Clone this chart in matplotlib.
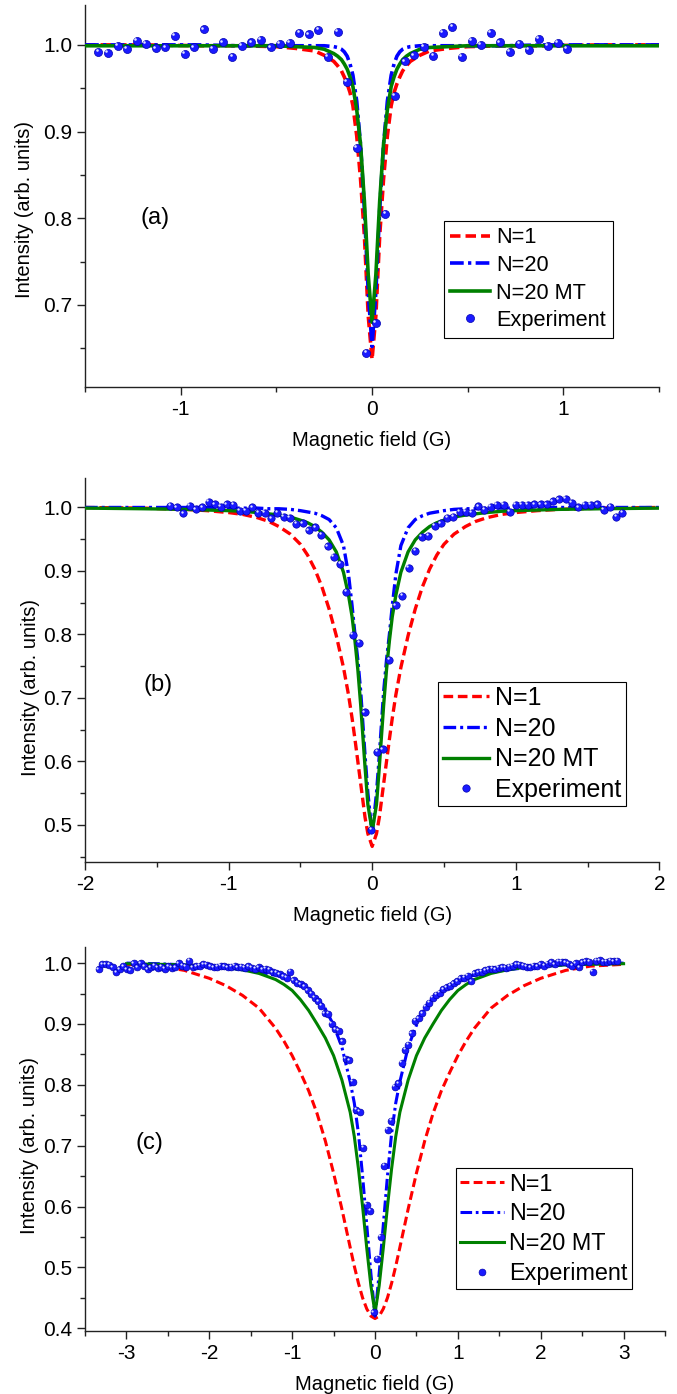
import matplotlib.pyplot as plt
import matplotlib.transforms as mtransforms
from matplotlib.ticker import MultipleLocator, FormatStrFormatter

plt.rcParams['font.family'] = ['Liberation Sans', 'DejaVu Sans']
plt.rcParams['axes.unicode_minus'] = False

LABELS = ["N=1", "N=20", "N=20 MT", "Experiment"]

# ---------------- panel (a) ----------------
fit_x_a = [-1.5, -1.2, -0.9, -0.7, -0.5, -0.4, -0.3, -0.25, -0.2, -0.18, -0.16, -0.145, -0.13, -0.115,
           -0.1, -0.08, -0.06, -0.04, -0.02, 0.0, 0.02, 0.04, 0.06, 0.08, 0.1, 0.115, 0.13, 0.145,
           0.16, 0.18, 0.2, 0.25, 0.3, 0.4, 0.5, 0.7, 0.9, 1.2, 1.5]
n1_a = [1.000, 1.000, 0.999, 0.999, 0.998, 0.996, 0.993, 0.988, 0.981, 0.976, 0.970, 0.963, 0.955,
        0.945, 0.930, 0.895, 0.845, 0.780, 0.688, 0.637, 0.688, 0.780, 0.845, 0.895, 0.930, 0.945,
        0.955, 0.963, 0.970, 0.976, 0.981, 0.988, 0.993, 0.996, 0.998, 0.999, 0.999, 1.000, 1.000]
n20_a = [1.000, 1.000, 1.000, 0.999, 0.999, 0.999, 0.999, 0.999, 0.998, 0.997, 0.995, 0.992, 0.987,
         0.978, 0.965, 0.935, 0.885, 0.810, 0.715, 0.652, 0.715, 0.810, 0.885, 0.935, 0.965, 0.978,
         0.987, 0.992, 0.995, 0.997, 0.998, 0.999, 0.999, 0.999, 0.999, 0.999, 1.000, 1.000, 1.000]
n20mt_a = [0.999, 0.999, 0.999, 0.999, 0.999, 0.998, 0.997, 0.995, 0.990, 0.987, 0.983, 0.978, 0.972,
           0.963, 0.952, 0.925, 0.885, 0.820, 0.735, 0.680, 0.735, 0.820, 0.885, 0.925, 0.952, 0.963,
           0.972, 0.978, 0.983, 0.987, 0.990, 0.995, 0.997, 0.998, 0.999, 0.999, 0.999, 0.999, 0.999]
exp_x_a = [-1.43, -1.38, -1.33, -1.28, -1.23, -1.18, -1.13, -1.08, -1.03, -0.98, -0.93, -0.88, -0.83,
           -0.78, -0.73, -0.68, -0.63, -0.58, -0.53, -0.48, -0.43, -0.38, -0.33, -0.28, -0.23, -0.18,
           -0.13, -0.08, -0.03, 0.02, 0.07, 0.12, 0.17, 0.22, 0.27, 0.32, 0.37, 0.42, 0.47, 0.52,
           0.57, 0.62, 0.67, 0.72, 0.77, 0.82, 0.87, 0.92, 0.97, 1.02]
exp_y_a = [0.992, 0.991, 0.999, 0.995, 1.005, 1.001, 0.996, 0.997, 1.010, 0.990, 0.997, 1.018, 0.995,
           1.003, 0.986, 0.999, 1.003, 1.006, 0.997, 1.001, 1.002, 1.014, 1.012, 1.017, 0.986, 1.015,
           0.957, 0.881, 0.645, 0.679, 0.805, 0.941, 0.981, 0.988, 0.998, 0.987, 1.014, 1.021, 0.986,
           1.005, 1.000, 1.014, 1.003, 0.992, 1.001, 0.994, 1.007, 0.999, 1.002, 0.995]

# ---------------- panel (b) ----------------
fit_x_b = [-2.0, -1.6, -1.3, -1.15, -1.0, -0.9, -0.8, -0.72, -0.65, -0.57, -0.5, -0.45, -0.4, -0.35,
           -0.3, -0.25, -0.2, -0.165, -0.14, -0.12, -0.1, -0.08, -0.05, -0.03, 0.0, 0.03, 0.05, 0.08,
           0.1, 0.12, 0.14, 0.165, 0.2, 0.25, 0.3, 0.35, 0.4, 0.45, 0.5, 0.57, 0.65, 0.72, 0.8, 0.9,
           1.0, 1.15, 1.3, 1.6, 2.0]
n1_b = [1.000, 0.999, 0.997, 0.995, 0.992, 0.989, 0.984, 0.978, 0.970, 0.958, 0.942, 0.925, 0.903,
        0.875, 0.840, 0.798, 0.748, 0.705, 0.668, 0.635, 0.600, 0.565, 0.512, 0.486, 0.466, 0.486,
        0.512, 0.565, 0.600, 0.635, 0.668, 0.705, 0.748, 0.798, 0.840, 0.875, 0.903, 0.925, 0.942,
        0.958, 0.970, 0.978, 0.984, 0.989, 0.992, 0.995, 0.997, 0.999, 1.000]
n20_b = [1.000, 1.000, 1.000, 1.000, 0.999, 0.999, 0.999, 0.998, 0.998, 0.997, 0.995, 0.993, 0.991,
         0.987, 0.981, 0.968, 0.940, 0.895, 0.845, 0.800, 0.760, 0.710, 0.610, 0.550, 0.485, 0.550,
         0.610, 0.710, 0.760, 0.800, 0.845, 0.895, 0.940, 0.968, 0.981, 0.987, 0.991, 0.993, 0.995,
         0.997, 0.998, 0.998, 0.999, 0.999, 0.999, 1.000, 1.000, 1.000, 1.000]
n20mt_b = [0.999, 0.998, 0.997, 0.996, 0.995, 0.994, 0.992, 0.990, 0.988, 0.985, 0.980, 0.976, 0.970,
           0.961, 0.949, 0.930, 0.898, 0.862, 0.828, 0.790, 0.745, 0.689, 0.592, 0.532, 0.490, 0.532,
           0.592, 0.689, 0.745, 0.790, 0.828, 0.862, 0.898, 0.930, 0.949, 0.961, 0.970, 0.976, 0.980,
           0.985, 0.988, 0.990, 0.992, 0.994, 0.995, 0.996, 0.997, 0.998, 0.999]
exp_x_b = [-1.405, -1.36, -1.315, -1.272, -1.227, -1.182, -1.14, -1.098, -1.053, -1.011, -0.966,
           -0.924, -0.879, -0.834, -0.792, -0.747, -0.702, -0.66, -0.615, -0.573, -0.528, -0.483,
           -0.441, -0.396, -0.354, -0.309, -0.267, -0.222, -0.18, -0.135, -0.09, -0.051, -0.005,
           0.035, 0.076, 0.12, 0.165, 0.21, 0.255, 0.30, 0.345, 0.39, 0.435, 0.48, 0.522, 0.564,
           0.609, 0.651, 0.696, 0.738, 0.78, 0.825, 0.87, 0.915, 0.957, 0.999, 1.041, 1.086, 1.128,
           1.173, 1.215, 1.26, 1.302, 1.347, 1.392, 1.437, 1.479, 1.524, 1.569, 1.614, 1.659, 1.701,
           1.743]
exp_y_b = [1.003, 1.000, 0.991, 1.003, 0.997, 1.000, 1.009, 1.005, 1.001, 1.005, 1.004,
           0.995, 0.995, 1.000, 0.992, 0.992, 0.983, 0.992, 0.985, 0.984, 0.974, 0.975,
           0.964, 0.969, 0.957, 0.939, 0.922, 0.911, 0.867, 0.799, 0.787, 0.677, 0.492,
           0.615, 0.619, 0.760, 0.846, 0.861, 0.905, 0.932, 0.954, 0.955, 0.971, 0.975, 0.984, 0.985,
           0.993, 0.993, 0.992, 1.002, 0.996, 1.001, 1.004, 1.004, 0.993, 1.004, 1.004, 1.004, 1.005,
           1.005, 1.005, 1.010, 1.013, 1.014, 1.007, 1.000, 1.004, 1.004, 1.005, 0.996, 1.001, 0.985,
           0.992]

# ---------------- panel (c) ----------------
fit_x_c = [-3.0, -2.6, -2.3, -2.0, -1.8, -1.6, -1.4, -1.2, -1.1, -1.0, -0.9, -0.8, -0.7, -0.6, -0.5,
           -0.4, -0.3, -0.25, -0.2, -0.15, -0.1, -0.05, 0.0, 0.05, 0.1, 0.15, 0.2, 0.25, 0.3, 0.4,
           0.5, 0.6, 0.7, 0.8, 0.9, 1.0, 1.1, 1.2, 1.4, 1.6, 1.8, 2.0, 2.3, 2.6, 3.0]
n1_c = [0.998, 0.995, 0.988, 0.975, 0.963, 0.947, 0.926, 0.893, 0.872, 0.848, 0.820, 0.790, 0.753,
        0.708, 0.655, 0.596, 0.533, 0.502, 0.474, 0.450, 0.432, 0.420, 0.416, 0.420, 0.432, 0.450,
        0.474, 0.502, 0.533, 0.596, 0.655, 0.708, 0.753, 0.790, 0.820, 0.848, 0.872, 0.893, 0.926,
        0.947, 0.963, 0.975, 0.988, 0.995, 0.998]
n20_c = [1.000, 0.999, 0.997, 0.994, 0.992, 0.989, 0.985, 0.980, 0.977, 0.972, 0.965, 0.955, 0.942,
         0.925, 0.898, 0.862, 0.805, 0.770, 0.720, 0.650, 0.570, 0.490, 0.420, 0.490, 0.570, 0.650,
         0.720, 0.770, 0.805, 0.862, 0.898, 0.925, 0.942, 0.955, 0.965, 0.972, 0.977, 0.980, 0.985,
         0.989, 0.992, 0.994, 0.997, 0.999, 1.000]
n20mt_c = [0.999, 0.998, 0.997, 0.995, 0.993, 0.989, 0.983, 0.973, 0.965, 0.955, 0.940, 0.922, 0.900,
           0.877, 0.848, 0.808, 0.755, 0.715, 0.662, 0.600, 0.532, 0.470, 0.425, 0.470, 0.532, 0.600,
           0.662, 0.715, 0.755, 0.808, 0.848, 0.877, 0.900, 0.922, 0.940, 0.955, 0.965, 0.973, 0.983,
           0.989, 0.993, 0.995, 0.997, 0.998, 0.999]
exp_x_c = [-3.334, -3.292, -3.250, -3.208, -3.166, -3.124, -3.082, -3.040, -2.998, -2.956,
           -2.914, -2.872, -2.830, -2.788, -2.746, -2.704, -2.662, -2.620, -2.578, -2.536,
           -2.494, -2.452, -2.410, -2.368, -2.326, -2.284, -2.242, -2.200, -2.158, -2.116,
           -2.074, -2.032, -1.990, -1.948, -1.906, -1.864, -1.822, -1.780, -1.738, -1.696,
           -1.654, -1.612, -1.570, -1.528, -1.486, -1.444, -1.402, -1.360, -1.318, -1.276,
           -1.234, -1.192, -1.150, -1.108, -1.066, -1.024, -0.982, -0.940, -0.898, -0.856,
           -0.814, -0.772, -0.730, -0.688, -0.646, -0.604, -0.562, -0.520, -0.478, -0.436,
           -0.394, -0.352, -0.310, -0.268, -0.226, -0.184, -0.142, -0.100, -0.058, -0.016,
           0.026, 0.068, 0.110, 0.152, 0.194, 0.236, 0.278, 0.320, 0.362, 0.404,
           0.446, 0.488, 0.530, 0.572, 0.614, 0.656, 0.698, 0.740, 0.782, 0.824,
           0.866, 0.908, 0.950, 0.992, 1.034, 1.076, 1.118, 1.160, 1.202, 1.244,
           1.286, 1.328, 1.370, 1.412, 1.454, 1.496, 1.538, 1.580, 1.622, 1.664,
           1.706, 1.748, 1.790, 1.832, 1.874, 1.916, 1.958, 2.000, 2.042, 2.084,
           2.126, 2.168, 2.210, 2.252, 2.294, 2.336, 2.378, 2.420, 2.462, 2.504,
           2.546, 2.588, 2.630, 2.672, 2.714, 2.756, 2.798, 2.840, 2.882, 2.924]
exp_y_c = [0.990, 0.998, 0.998, 0.997, 0.993, 0.985, 0.990, 0.995, 0.990, 0.988,
           1.000, 0.993, 1.000, 0.995, 0.990, 0.993, 0.996, 0.992, 0.994, 0.991,
           0.995, 0.992, 0.993, 1.000, 0.996, 0.994, 1.004, 0.993, 0.995, 0.996,
           0.998, 0.997, 0.995, 0.993, 0.994, 0.996, 0.995, 0.993, 0.994, 0.996,
           0.993, 0.994, 0.992, 0.995, 0.992, 0.991, 0.993, 0.990, 0.991, 0.989,
           0.985, 0.984, 0.982, 0.978, 0.976, 0.986, 0.972, 0.968, 0.965, 0.962,
           0.955, 0.950, 0.943, 0.937, 0.930, 0.918, 0.917, 0.900, 0.891, 0.889,
           0.872, 0.843, 0.840, 0.805, 0.759, 0.756, 0.697, 0.603, 0.593, 0.426,
           0.514, 0.550, 0.667, 0.726, 0.741, 0.797, 0.803, 0.836, 0.858, 0.866,
           0.885, 0.905, 0.909, 0.918, 0.928, 0.935, 0.943, 0.948, 0.951, 0.957,
           0.960, 0.963, 0.967, 0.970, 0.975, 0.976, 0.979, 0.970, 0.983, 0.985,
           0.986, 0.988, 0.990, 0.991, 0.990, 0.992, 0.993, 0.992, 0.994, 0.996,
           0.998, 0.997, 0.996, 0.994, 0.993, 0.996, 0.995, 0.998, 0.996, 0.999,
           1.001, 0.998, 1.002, 1.002, 1.001, 0.999, 0.996, 1.000, 0.993, 1.001,
           1.003, 1.002, 0.986, 1.004, 1.005, 1.002, 1.002, 1.004, 1.003, 1.004]

# layout of the three panels (figure fractions / axes fractions)
panels = [
    dict(tag='(a)', rect=[0.1256, 0.7226, 0.8479, 0.2738], xlim=(-1.5, 1.5), ylim=(0.6057, 1.046),
         lw=2.6, ms=5.8, leg_xy=(0.6554, 0.8415), leg_fs=15.7, borderpad=0.3, labelspacing=0.30,
         handlelength=1.83, handletextpad=0.28, ylab=(-0.0897, 0.4655), tag_xy=(0.0958, 0.442)),
    dict(tag='(b)', rect=[0.1256, 0.3819, 0.8483, 0.2750], xlim=(-2, 2), ylim=(0.442, 1.046),
         lw=2.4, ms=5.3, leg_xy=(0.6474, 0.5110), leg_fs=18, borderpad=0.17, labelspacing=0.27,
         handlelength=1.87, handletextpad=0.24, ylab=(-0.0784, 0.453), tag_xy=(0.1015, 0.461)),
    dict(tag='(c)', rect=[0.1256, 0.0454, 0.8567, 0.2755], xlim=(-3.5, 3.5), ylim=(0.396, 1.027),
         lw=2.2, ms=4.9, leg_xy=(0.6736, 0.1619), leg_fs=16.8, borderpad=0.18, labelspacing=0.295,
         handlelength=1.88, handletextpad=0.23, ylab=(-0.0793, 0.481), tag_xy=(0.0862, 0.488)),
]


def draw_panel(fig, p, fit_x, n1, n20, n20mt, exp_x, exp_y):
    ax = fig.add_axes(p['rect'])
    lw = p['lw']
    ax.plot(fit_x, n1, color='#ff0000', lw=lw, dashes=(2.9, 1.4), label=LABELS[0], zorder=2)
    ax.plot(fit_x, n20, color='#0000ff', lw=lw, dashes=(3.8, 1.2, 0.9, 1.2), label=LABELS[1], zorder=3)
    ax.plot(fit_x, n20mt, color='#008000', lw=lw, label=LABELS[2], zorder=4)
    ms = p['ms']
    ax.plot(exp_x, exp_y, 'o', ms=ms, mfc='#1a1aff', mec='#0000b0', mew=0.5,
            label=LABELS[3], zorder=5, clip_on=False)
    # little highlight so the dots look like Origin's spheres
    shine = mtransforms.offset_copy(ax.transData, fig=fig, x=-0.22 * ms, y=0.22 * ms, units='points')
    ax.plot(exp_x, exp_y, 'o', ms=ms * 0.32, mfc='#dfe3ff', mec='none', transform=shine,
            zorder=6, clip_on=False)

    ax.set_xlim(*p['xlim'])
    ax.set_ylim(*p['ylim'])
    ax.xaxis.set_major_locator(MultipleLocator(1))
    ax.xaxis.set_minor_locator(MultipleLocator(0.5))
    ax.yaxis.set_major_locator(MultipleLocator(0.1))
    ax.yaxis.set_minor_locator(MultipleLocator(0.05))
    ax.yaxis.set_major_formatter(FormatStrFormatter('%.1f'))

    for side in ('top', 'right'):
        ax.spines[side].set_visible(False)
    for side in ('left', 'bottom'):
        ax.spines[side].set_linewidth(1.0)
        ax.spines[side].set_color('#222222')
    ax.tick_params(which='both', direction='out', color='#222222', width=1.0, labelsize=15)
    ax.tick_params(which='major', length=5.5)
    ax.tick_params(which='minor', length=3.5)
    ax.tick_params(axis='x', pad=4)
    ax.tick_params(axis='y', pad=3.5)

    ax.set_xlabel('Magnetic field (G)', fontsize=14.5)
    ax.xaxis.set_label_coords(0.5, -0.115)
    ax.set_ylabel('Intensity (arb. units)', fontsize=14.5)
    ax.yaxis.set_label_coords(*p['ylab'])

    ax.text(p['tag_xy'][0], p['tag_xy'][1], p['tag'], transform=ax.transAxes,
            fontsize=17, ha='left', va='center')

    leg = ax.legend(loc='upper left', bbox_to_anchor=p['leg_xy'], bbox_transform=fig.transFigure,
                    borderaxespad=0, fontsize=p['leg_fs'], fancybox=False, framealpha=1,
                    edgecolor='black', borderpad=p['borderpad'], labelspacing=p['labelspacing'],
                    handlelength=p['handlelength'], handletextpad=p['handletextpad'], numpoints=1)
    leg.get_frame().set_linewidth(0.8)
    return ax


fig = plt.figure(figsize=(6.77, 13.94), dpi=100)
draw_panel(fig, panels[0], fit_x_a, n1_a, n20_a, n20mt_a, exp_x_a, exp_y_a)
draw_panel(fig, panels[1], fit_x_b, n1_b, n20_b, n20mt_b, exp_x_b, exp_y_b)
draw_panel(fig, panels[2], fit_x_c, n1_c, n20_c, n20mt_c, exp_x_c, exp_y_c)
fig.savefig('out.png', dpi=100)
